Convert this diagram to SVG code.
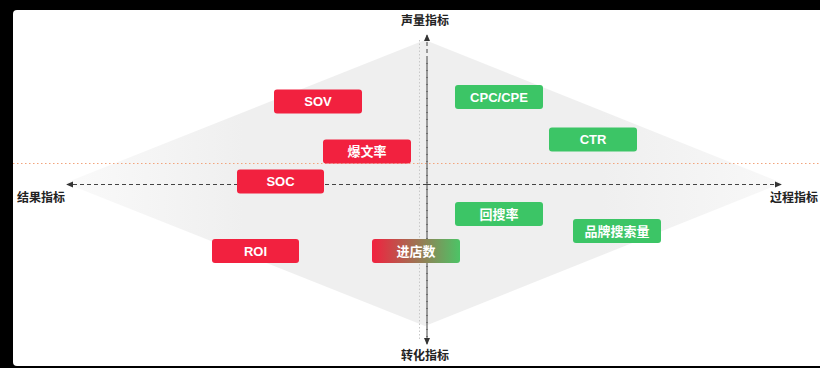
<svg xmlns="http://www.w3.org/2000/svg" width="820" height="368" viewBox="0 0 820 368">
<defs>
<style>
.box{stroke:none}
.red{fill:#f2213f}
.green{fill:#3cc566}
.lbl{font-family:"Liberation Sans","Noto Sans CJK SC",sans-serif;font-size:13px;font-weight:bold;fill:#ffffff;text-anchor:middle;dominant-baseline:central}
.axis{font-family:"Noto Sans CJK SC","Liberation Sans",sans-serif;font-size:12px;font-weight:bold;fill:#222222}
.ax{stroke:#444444;stroke-width:1;stroke-dasharray:4 3;fill:none}
</style>
<linearGradient id="dg" x1="65" y1="0" x2="780" y2="0" gradientUnits="userSpaceOnUse">
<stop offset="0" stop-color="#fafafa"/>
<stop offset="0.25" stop-color="#efefef"/>
<stop offset="0.75" stop-color="#efefef"/>
<stop offset="1" stop-color="#f8f8f8"/>
</linearGradient>
<linearGradient id="mix" x1="0" y1="0" x2="1" y2="0">
<stop offset="0" stop-color="#f2213f"/>
<stop offset="1" stop-color="#4cc466"/>
</linearGradient>
<marker id="ah" viewBox="0 0 8 8" refX="7" refY="4" markerWidth="7" markerHeight="7" orient="auto" markerUnits="userSpaceOnUse">
<path d="M0,0.5 L8,4 L0,7.5 Z" fill="#333333"/>
</marker>
</defs>
<rect x="0" y="0" width="820" height="368" fill="#000000"/>
<rect x="13" y="10" width="812" height="356" rx="4" fill="#ffffff"/>
<polygon points="65,183 425,40 782,183 425,326" fill="url(#dg)"/>
<line x1="13" y1="163.5" x2="820" y2="163.5" stroke="#f2a47c" stroke-width="1" stroke-dasharray="1.5 2.5"/>
<line x1="419.5" y1="40" x2="419.5" y2="340" stroke="#c8c8c8" stroke-width="1" stroke-dasharray="1.5 2"/>
<g id="connectors">
<line class="ax" x1="427" y1="340" x2="427" y2="35" marker-end="url(#ah)"/>
<line class="ax" x1="427" y1="60" x2="427" y2="344" marker-end="url(#ah)"/>
<line class="ax" x1="427" y1="184.5" x2="67" y2="184.5" marker-end="url(#ah)"/>
<line class="ax" x1="427" y1="184.5" x2="781" y2="184.5" marker-end="url(#ah)"/>
</g>
<g id="axis-top"><text class="axis" x="425" y="25" text-anchor="middle">声量指标</text></g>
<g id="axis-bottom"><text class="axis" x="425" y="360" text-anchor="middle">转化指标</text></g>
<g id="axis-left"><text class="axis" x="17" y="202">结果指标</text></g>
<g id="axis-right"><text class="axis" x="770" y="202">过程指标</text></g>
<g id="sov"><rect class="box red" x="274" y="89.5" width="88" height="24" rx="3"/><text class="lbl" x="318" y="101.5">SOV</text></g>
<g id="baowenlv"><rect class="box red" x="323" y="139.5" width="88" height="24" rx="3"/><text class="lbl" x="367" y="151.5">爆文率</text></g>
<g id="soc"><rect class="box red" x="237" y="169.5" width="87" height="24" rx="3"/><text class="lbl" x="280.5" y="181.5">SOC</text></g>
<g id="roi"><rect class="box red" x="212" y="239" width="87" height="24" rx="3"/><text class="lbl" x="255.5" y="251">ROI</text></g>
<g id="jindianshu"><rect class="box" fill="url(#mix)" x="372" y="239" width="88" height="24" rx="3"/><text class="lbl" x="416" y="251">进店数</text></g>
<g id="cpc"><rect class="box green" x="455" y="85" width="88" height="24" rx="3"/><text class="lbl" x="499" y="97">CPC/CPE</text></g>
<g id="ctr"><rect class="box green" x="549" y="127.5" width="88" height="24" rx="3"/><text class="lbl" x="593" y="139.5">CTR</text></g>
<g id="huisoulv"><rect class="box green" x="455" y="202" width="88" height="24" rx="3"/><text class="lbl" x="499" y="214">回搜率</text></g>
<g id="pinpai"><rect class="box green" x="573" y="219" width="88" height="24" rx="3"/><text class="lbl" x="617" y="231">品牌搜索量</text></g>
</svg>
